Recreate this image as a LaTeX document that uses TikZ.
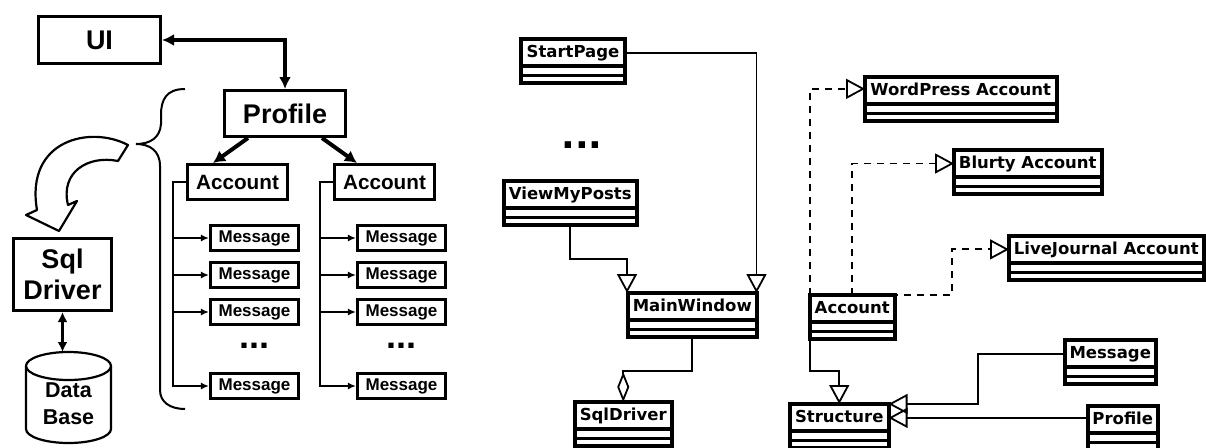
\documentclass[tikz,border=0pt]{standalone}
\usepackage{fontspec}
\usetikzlibrary{arrows.meta,calc}
\newfontfamily\arialfont{Liberation Sans}
\newfontfamily\umlfont{DejaVu Sans}
\newcommand{\umlclass}[5]{% #1: name, #2: x, #3: y (top left), #4: width, #5: title
	\node[umlbox,minimum width=#4pt,anchor=north west] (#1) at (#2,#3) {};
	\node[umltext,anchor=base] (#1-t) at ($(#1.north)+(0,18)$) {#5};
	\draw[line width=4pt] ($(#1.north west)+(0,27)$) -- ($(#1.north east)+(0,27)$);
	\draw[line width=3pt] ($(#1.north west)+(0,36)$) -- ($(#1.north east)+(0,36)$);
}
\tikzset{
	blk/.style={draw,line width=3pt,inner sep=0pt,align=center,font=\arialfont\bfseries\fontsize{27}{31}\selectfont},
	accbox/.style={draw,line width=3pt,inner sep=0pt,minimum width=100pt,minimum height=35pt,font=\arialfont\bfseries\fontsize{20.7}{24}\selectfont},
	msgbox/.style={draw,line width=2.6pt,inner sep=0pt,minimum width=88.5pt,minimum height=24.5pt,font=\arialfont\bfseries\fontsize{17}{20}\selectfont},
	dots/.style={inner sep=0pt,anchor=base,font=\arialfont\bfseries\fontsize{36}{40}\selectfont},
	umlbox/.style={draw,line width=4pt,outer sep=0pt,inner sep=0pt,minimum height=44pt},
	umltext/.style={inner sep=0pt,font=\umlfont\bfseries\fontsize{16.5}{19}\selectfont},
	umldots/.style={inner sep=0pt,anchor=base,font=\umlfont\bfseries\fontsize{36}{40}\selectfont},
	heavy/.style={line width=4pt,-{Latex[length=12pt,width=13pt]}},
	tree/.style={line width=2pt,-{Latex[length=8pt,width=7pt]}},
	gen/.style={line width=1.8pt,-{Triangle[open,length=19pt,width=20pt]}},
	real/.style={gen,dash pattern=on 7pt off 6pt},
	aggr/.style={line width=1.8pt,-{Diamond[open,length=30pt,width=12pt]}},
}
\begin{document}
\begin{tikzpicture}[x=1pt,y=-1pt]
	\useasboundingbox (0,0) rectangle (1206,447);
	
	% Left: layers
	\node[blk,minimum width=122pt,minimum height=47pt] (ui) at (99.5,40) {UI};
	\node[blk,minimum width=121pt,minimum height=46pt] (profile) at (285,113.5) {Profile};
	\node[blk,minimum width=98pt,minimum height=72pt] (sql) at (62.5,274.5) {Sql\\Driver};
	\draw[line width=3.5pt,{Latex[length=12pt,width=12pt]}-{Latex[length=12pt,width=12pt]}] (ui.east) -| (profile.north);
	
	% Accounts and messages
	\node[accbox] (acc1) at (237.5,182) {Account};
	\node[accbox] (acc2) at (384.5,182) {Account};
	\draw[heavy] ([xshift=-37pt]profile.south) -- ([xshift=-24.5pt]acc1.north);
	\draw[heavy] ([xshift=37pt]profile.south) -- ([xshift=-27.5pt]acc2.north);
	\foreach \i/\y in {1/238,2/275,3/312,4/386} {
		\node[msgbox] (ma\i) at (254.5,\y) {Message};
		\node[msgbox] (mb\i) at (401.5,\y) {Message};
		\draw[tree] (acc1.west) -- ++(-13,0) |- (ma\i.west);
		\draw[tree] (acc2.west) -- ++(-13,0) |- (mb\i.west);
	}
	\node[dots] (dla) at (254,348) {...};
	\node[dots] (dlb) at (401,348) {...};
	
	% Brace and hollow arrow
	\draw[line width=2pt] (185,89) .. controls (166,89) and (161,100) .. (161,115) -- (161,124)
		.. controls (160,138) and (150,144) .. (136,144)
		.. controls (150,144) and (160,151) .. (160,166) -- (160,390)
		.. controls (160,402) and (170,409) .. (185,409);
	\draw[line width=2.2pt,fill=white,line join=round] (128,145) .. controls (90,125) and (25,140) .. (37,210)
		-- (26,215) -- (59,231) -- (77,201) -- (68,205)
		.. controls (60,172) and (88,155) .. (118,161) -- cycle;
	
	% Data base
	\coordinate (dbtop) at (68.5,352);
	\draw[line width=2.2pt] (26,366) -- (26,429) arc[start angle=180,end angle=0,x radius=42.5,y radius=14] -- (111,366);
	\draw[line width=2.2pt] (68.5,366) ellipse[x radius=42.5,y radius=14];
	\node[font=\arialfont\bfseries\fontsize{21.5}{27}\selectfont,align=center,inner sep=0pt] (db) at (68.5,404) {Data\\Base};
	\draw[line width=3pt,{Latex[length=10pt,width=10pt]}-{Latex[length=10pt,width=10pt]}] (sql.south) -- (sql.south |- dbtop);
	
	% Right: class diagram
	\umlclass{startpage}{521}{39}{104}{StartPage}
	\umlclass{viewposts}{504}{181}{132.5}{ViewMyPosts}
	\umlclass{mainwin}{628}{293}{128.5}{MainWindow}
	\umlclass{sqldriver}{575}{402}{96.5}{SqlDriver}
	\node[umldots] (dd) at (582,148) {...};
	\draw[gen] (startpage-t -| startpage.east) -| (mainwin.north east);
	\draw[gen] (viewposts.south) -- ++(0,34) -| ([xshift=-1pt]mainwin.north west);
	\draw[aggr] (mainwin.south) -- ++(0,34) -| (sqldriver.north);
	
	\umlclass{wordpress}{865}{77}{191.5}{WordPress Account}
	\umlclass{blurty}{954}{150}{147.5}{Blurty Account}
	\umlclass{livejournal}{1009}{236}{194.5}{LiveJournal Account}
	\umlclass{account}{810}{295}{84.5}{Account}
	\umlclass{structure}{790}{404}{98.5}{Structure}
	\umlclass{message}{1065}{340}{90.5}{Message}
	\umlclass{profcls}{1088}{406}{69.5}{Profile}
	\draw[real] (account.north west) |- (wordpress-t -| wordpress.west);
	\draw[real] ([xshift=42pt]account.north west) |- (blurty-t -| blurty.west);
	\draw[real] ([xshift=42pt]account.north west) -- ++(100,0) |- (livejournal-t -| livejournal.west);
	\draw[gen] (account.south west) -- ++(0,32) -| (structure.north);
	\draw[gen] (message-t -| message.west) -- ++(-87,0) |- (structure.north east);
	\draw[gen] (profcls-t -| profcls.west) -- (profcls-t -| structure.east);
\end{tikzpicture}
\end{document}
